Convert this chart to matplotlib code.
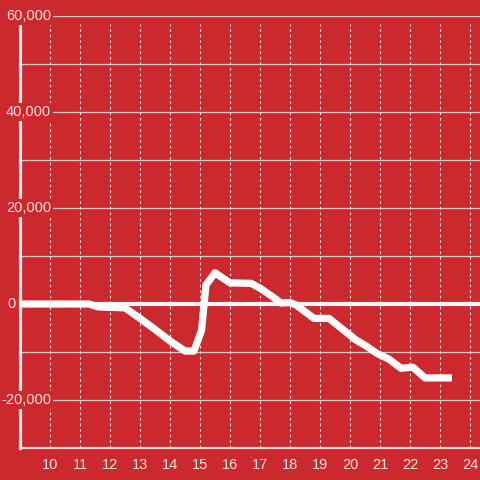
import matplotlib
matplotlib.use('Agg')
import matplotlib.pyplot as plt

# values (hour of day vs. running total)
hours = [9.0, 11.3, 11.6, 12.0, 12.5, 13.0, 13.5, 14.0, 14.5, 14.8, 15.05, 15.2,
         15.5, 16.0, 16.7, 17.0, 17.4, 17.7, 18.0, 18.2, 18.8, 19.3, 19.7, 20.2,
         20.5, 20.9, 21.3, 21.7, 22.0, 22.1, 22.5, 23.4]
values = [0, 0, -600, -700, -800, -3000, -5300, -7700, -9800, -9800, -5500, 4000,
          6500, 4400, 4300, 3300, 1600, 200, 300, -200, -3000, -3000, -5000, -7500,
          -8600, -10300, -11500, -13400, -13200, -13200, -15400, -15400]

x_ticks = list(range(10, 25))
y_grid = [-20000, -10000, 10000, 20000, 30000, 40000, 50000, 60000]
y_labels = [-20000, 0, 20000, 40000, 60000]

bg = '#cc292e'
txt = '#f5e4e4'

plt.rcParams['font.family'] = ['Liberation Sans', 'DejaVu Sans']

fig = plt.figure(figsize=(4.8, 4.8), dpi=100)
fig.patch.set_facecolor(bg)
ax = fig.add_axes([20 / 480, 32 / 480, 460 / 480, 432 / 480])
ax.set_facecolor(bg)
ax.set_xlim(9, 9 + 460 / 30)
ax.set_ylim(-30000, 60000)

for s in ['top', 'right']:
    ax.spines[s].set_visible(False)
ax.spines['left'].set_color('#f2ecec')
ax.spines['left'].set_linewidth(2.3)
ax.spines['left'].set_bounds(-30000, 58300)
ax.spines['bottom'].set_color('#e8e0e0')
ax.spines['bottom'].set_linewidth(1.5)

# grid
for g in y_grid:
    ax.axhline(g, color='#d6cccc', lw=0.9, zorder=1)
ax.vlines(x_ticks, -30000, 58300, colors='#e8dcdc', lw=0.8,
          linestyles=(0, (2.5, 2.5)), zorder=1)
ax.axhline(0, color='#f8f4f4', lw=3, zorder=2)

ax.plot(hours, values, color='white', lw=5.2, solid_joinstyle='round',
        solid_capstyle='butt', zorder=4)

ax.set_xticks(x_ticks)
ax.set_xticklabels([str(t) for t in x_ticks])
ax.tick_params(axis='x', length=0, pad=7, labelsize=10.5, labelcolor=txt)
ax.set_yticks([])

yt = ax.get_yaxis_transform()
for v in y_labels:
    if v == 0:
        # the zero label sits left of the axis line, no background box
        ax.text((16 - 20) / 460, v, '0', transform=yt, ha='right', va='center',
                fontsize=10.5, color=txt, zorder=6, clip_on=False)
        continue
    ax.text((51 - 20) / 460, v, f'{v:,}', transform=yt, ha='right', va='center',
            fontsize=10.5, color=txt, zorder=6, clip_on=False,
            bbox=dict(facecolor=bg, edgecolor='none', pad=1.2))

fig.savefig('out.png', dpi=100, facecolor=bg)
